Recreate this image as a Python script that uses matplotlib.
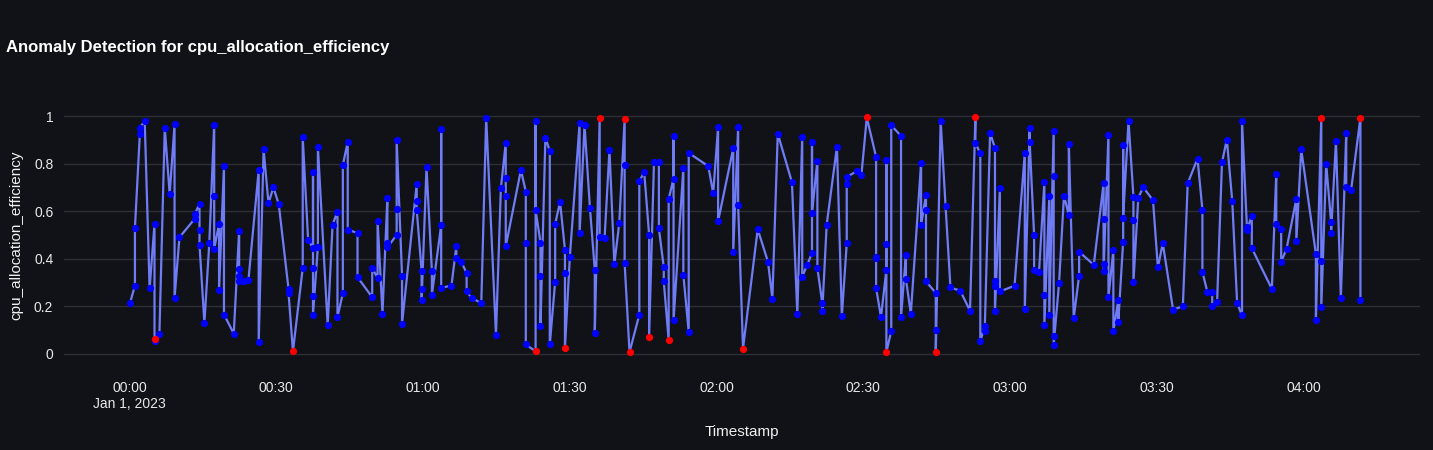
import matplotlib
matplotlib.use("Agg")
import matplotlib.pyplot as plt
import numpy as np
from datetime import datetime, timedelta

plt.rcParams['font.family'] = ['Liberation Sans', 'DejaVu Sans']

# minutes after 2023-01-01 00:00 and value
minutes = [0.1, 1.1, 1.1, 2.1, 2.1, 3.1, 4.1, 5.1, 5.1, 5.1, 6.1, 7.2, 8.2, 9.2, 9.2, 10.2,
           13.3, 13.3, 14.3, 14.3, 14.3, 15.3, 16.3, 17.3, 17.3, 17.3, 18.3, 18.3, 19.3, 19.3,
           21.3, 22.4, 22.4, 22.4, 22.4, 23.4, 24.3, 26.4, 26.4, 27.4, 28.4, 29.4, 30.5,
           32.5, 32.5, 33.4, 35.4, 35.4, 36.5, 37.5, 37.5, 37.5, 37.5, 37.5, 38.5, 38.5,
           40.5, 41.5, 42.5, 42.5, 43.6, 43.6, 44.6, 44.6, 46.6, 46.6, 49.6, 49.6, 50.7, 50.7,
           51.7, 52.7, 52.7, 52.7, 54.6, 54.6, 54.6, 55.7, 55.7, 58.7, 58.7, 58.7, 59.7, 59.7,
           59.7, 60.7, 61.8, 61.8,
           63.7, 63.7, 63.7, 65.8, 66.8, 66.8, 67.8, 68.9, 68.9, 69.9, 71.9, 72.9, 74.9, 75.9,
           76.9, 76.9, 76.9, 76.9, 80.0, 81.0, 81.0, 81.0, 83.0, 83.0, 83.0, 84.0, 84.0, 84.0,
           85.0, 85.9, 85.9, 87.0, 87.0, 88.0, 89.0, 89.0, 89.0, 90.0, 92.0, 92.0, 93.0, 94.1,
           95.1, 95.1, 96.1, 96.1, 97.1, 98.1, 99.1, 100.1, 101.2, 101.2, 101.2, 102.2,
           104.2, 104.2, 105.2, 106.2, 106.2, 107.2, 108.2, 108.2, 109.2, 109.2, 110.2, 110.2,
           111.2, 111.2, 111.2, 113.2, 113.2, 114.3, 114.3, 118.3, 119.3, 120.3, 120.3,
           123.4, 123.4, 124.4, 124.4, 125.4,
           128.4, 130.5, 131.4, 132.5, 135.4, 136.5, 137.5, 137.5, 138.5, 139.5, 139.5, 139.5,
           140.6, 140.6, 141.6, 141.6, 142.5, 144.6, 145.6, 146.6, 146.6, 146.6, 148.6, 149.6,
           150.7, 152.6, 152.6, 152.6, 152.6, 153.6, 154.7, 154.7, 154.7, 154.7, 155.7, 155.7,
           157.7, 157.7,
           158.7, 158.7, 159.7, 161.8, 161.8, 162.8, 162.8, 162.8, 164.8, 164.8, 164.8, 165.8,
           166.8, 167.8, 169.8, 171.8, 172.9, 172.9, 173.9, 173.9, 174.8, 174.8, 175.9, 176.9,
           176.9, 176.9, 176.9, 177.9, 177.9, 180.9, 183.0, 183.0, 184.0, 184.0, 184.9, 184.9,
           185.9, 187.0, 187.0, 187.0, 188.0, 188.0, 188.9, 188.9, 188.9, 188.9,
           190.0, 191.0, 192.0, 192.0, 193.0, 194.1, 194.1, 197.1, 199.1, 199.1, 199.1, 199.1,
           200.1, 200.1, 201.1, 201.1, 202.1, 202.1, 203.1, 203.1, 203.1, 204.2, 205.2, 205.2,
           205.2, 206.2, 207.2, 209.2, 210.2, 211.2, 213.3, 215.3, 216.3, 218.3, 219.3, 219.3,
           220.3,
           221.3, 221.3, 222.3, 223.3, 224.3, 225.4, 226.4, 227.4, 227.4, 228.4, 228.4, 229.4,
           229.4, 233.5, 234.4, 234.4, 235.4, 235.4, 236.5, 238.5, 238.5, 239.5, 242.5, 242.5,
           243.6, 243.6, 243.6, 244.6, 245.6, 245.6, 246.6, 247.6, 248.7, 248.7, 249.7, 251.6,
           251.6]
values = [0.214, 0.286, 0.529, 0.923, 0.951, 0.979, 0.275, 0.545, 0.052, 0.062, 0.081, 0.951,
          0.671, 0.965, 0.235, 0.490,
          0.567, 0.587, 0.630, 0.522, 0.458, 0.130, 0.465, 0.962, 0.665, 0.441, 0.546, 0.268,
          0.790, 0.165,
          0.085, 0.517, 0.357, 0.328, 0.307, 0.304, 0.310, 0.772, 0.050, 0.860, 0.633, 0.700,
          0.629,
          0.272, 0.255, 0.010, 0.360, 0.910, 0.480, 0.444, 0.765, 0.360, 0.241, 0.165, 0.451,
          0.870,
          0.119, 0.543, 0.598, 0.154, 0.254, 0.794, 0.891, 0.522, 0.508, 0.322, 0.238, 0.360,
          0.319, 0.559,
          0.169, 0.654, 0.468, 0.447, 0.500, 0.611, 0.898, 0.329, 0.126, 0.713, 0.643, 0.606,
          0.347, 0.272, 0.225, 0.784, 0.350, 0.248,
          0.541, 0.944, 0.277, 0.287, 0.452, 0.403, 0.387, 0.340, 0.262, 0.235, 0.213, 0.993,
          0.080, 0.696,
          0.887, 0.738, 0.664, 0.452, 0.773, 0.682, 0.466, 0.039, 0.010, 0.979, 0.604, 0.468,
          0.325, 0.118,
          0.909, 0.853, 0.039, 0.303, 0.546, 0.639, 0.437, 0.338, 0.024, 0.408, 0.971, 0.508,
          0.964, 0.615,
          0.353, 0.088, 0.990, 0.493, 0.487, 0.857, 0.378, 0.549, 0.987, 0.796, 0.380, 0.007,
          0.164, 0.725, 0.765, 0.501, 0.071, 0.805, 0.808, 0.527, 0.364, 0.304, 0.057, 0.651,
          0.737, 0.916, 0.141, 0.782, 0.333, 0.091, 0.845, 0.789, 0.676, 0.952, 0.557,
          0.864, 0.429, 0.952, 0.625, 0.022,
          0.524, 0.387, 0.232, 0.926, 0.721, 0.168, 0.912, 0.324, 0.373, 0.423, 0.892, 0.592,
          0.812, 0.360, 0.213, 0.179, 0.543, 0.871, 0.158, 0.464, 0.714, 0.744, 0.767, 0.752,
          0.994, 0.828, 0.409, 0.402, 0.277, 0.154, 0.353, 0.461, 0.815, 0.007, 0.095, 0.961,
          0.916, 0.155,
          0.417, 0.314, 0.168, 0.803, 0.541, 0.668, 0.605, 0.304, 0.256, 0.098, 0.008, 0.980,
          0.620, 0.279, 0.265, 0.181, 0.996, 0.887, 0.843, 0.052, 0.116, 0.095, 0.929, 0.866,
          0.307, 0.286, 0.179, 0.696, 0.262, 0.286, 0.846, 0.189, 0.951, 0.889, 0.500, 0.354,
          0.343, 0.723, 0.248, 0.123, 0.662, 0.165, 0.937, 0.748, 0.074, 0.038,
          0.297, 0.665, 0.583, 0.881, 0.150, 0.329, 0.429, 0.374, 0.717, 0.567, 0.378, 0.350,
          0.922, 0.237, 0.437, 0.095, 0.224, 0.132, 0.472, 0.877, 0.573, 0.979, 0.661, 0.563,
          0.301, 0.657, 0.700, 0.646, 0.363, 0.465, 0.186, 0.199, 0.717, 0.821, 0.606, 0.345,
          0.261,
          0.258, 0.199, 0.216, 0.805, 0.901, 0.643, 0.213, 0.161, 0.978, 0.534, 0.520, 0.581,
          0.444, 0.273, 0.758, 0.545, 0.525, 0.387, 0.441, 0.651, 0.473, 0.860, 0.420, 0.143,
          0.993, 0.389, 0.195, 0.800, 0.555, 0.508, 0.894, 0.235, 0.927, 0.700, 0.689, 0.993,
          0.225]
# anomalies as (minute, value)
anomaly_points = [(5.1, 0.062), (33.4, 0.010), (83.0, 0.010), (89.0, 0.024), (96.1, 0.990),
                  (101.2, 0.987), (102.2, 0.007), (106.2, 0.071), (110.2, 0.057),
                  (125.4, 0.022), (150.7, 0.994), (154.7, 0.007), (164.8, 0.008),
                  (172.9, 0.996), (243.6, 0.993), (251.6, 0.993)]

anomaly = [(m, v) in anomaly_points for m, v in zip(minutes, values)]

start = datetime(2023, 1, 1)
times = [start + timedelta(minutes=m) for m in minutes]
t_anom = [t for t, a in zip(times, anomaly) if a]
v_anom = [v for v, a in zip(values, anomaly) if a]
t_norm = [t for t, a in zip(times, anomaly) if not a]
v_norm = [v for v, a in zip(values, anomaly) if not a]

bg = "#111217"
fig = plt.figure(figsize=(14.33, 4.5), dpi=100, facecolor=bg)
ax = fig.add_axes([0.045, 0.178, 0.946, 0.6], facecolor=bg)

ax.plot(times, values, color="#6f7cf5", lw=1.6, zorder=2)
ax.plot(t_norm, v_norm, "o", color="#0000ff", ms=4.2, zorder=3)
ax.plot(t_anom, v_anom, "o", color="#ff0000", ms=4.2, zorder=4)

ax.set_xlim(start - timedelta(minutes=13.3), start + timedelta(minutes=263.8))
ax.set_ylim(-0.068, 1.068)
ax.set_yticks([0, 0.2, 0.4, 0.6, 0.8, 1])
ax.set_yticklabels(["0", "0.2", "0.4", "0.6", "0.8", "1"])
ticks = [start + timedelta(minutes=30 * i) for i in range(9)]
ax.set_xticks(ticks)
ax.set_xticklabels(["00:00\nJan 1, 2023"] + [t.strftime("%H:%M") for t in ticks[1:]])

ax.grid(axis="y", color="#2c2f36", lw=1)
ax.set_axisbelow(True)
for s in ax.spines.values():
    s.set_visible(False)
ax.tick_params(colors="#e8e8e8", labelsize=10, length=0, pad=8)
ax.set_xlabel("Timestamp", color="#f0f0f0", fontsize=11, labelpad=10)
ax.set_ylabel("cpu_allocation_efficiency", color="#f0f0f0", fontsize=11, labelpad=8)
fig.text(0.004, 0.885, "Anomaly Detection for cpu_allocation_efficiency", color="white",
         fontsize=12, fontweight="bold")

fig.savefig("out.png", dpi=100, facecolor=bg)
